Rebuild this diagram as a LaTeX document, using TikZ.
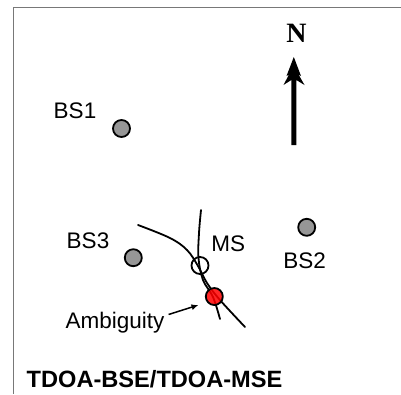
\documentclass[tikz,border=0pt]{standalone}
\usepackage{fontspec}
\setmainfont{Liberation Sans}
\newfontfamily\serifN{Liberation Serif}
\usetikzlibrary{arrows.meta}
\definecolor{bsgray}{RGB}{150,150,150}
\definecolor{framegray}{RGB}{120,120,120}
\definecolor{ambred}{RGB}{255,0,0}
\tikzset{
  lbl/.style={inner sep=0pt, anchor=base, font=\fontsize{22.5}{24}\selectfont},
  station/.style={circle, draw=black, line width=1.8pt, fill=bsgray, minimum size=17pt, inner sep=0pt},
  mobile/.style={circle, draw=black, line width=1.8pt, fill=white, fill opacity=0, minimum size=17pt, inner sep=0pt},
  ambig/.style={circle, draw=black, line width=1.8pt, fill=ambred, minimum size=17pt, inner sep=0pt},
  curve/.style={line width=1.8pt, line cap=round},
}
\begin{document}
\begin{tikzpicture}[x=1pt,y=-1pt]
\useasboundingbox (0,0) rectangle (401,394);
% frame
\draw[framegray, line width=1.2pt] (401,7.3) -- (13.3,7.3) -- (13.3,394);
% hyperbolas
\draw[curve] plot[smooth, tension=0.6] coordinates {(138,225) (170,238) (187,250) (198,266) (207,283) (220,300) (245,327)};
\draw[curve] plot[smooth, tension=0.6] coordinates {(201,210) (199,233) (198.5,258) (203,280) (213,297) (220,319)};
% stations
\node[station] (bs1) at (121.5,128.5) {};
\node[station] (bs2) at (306.7,227.3) {};
\node[station] (bs3) at (133.3,257.7) {};
\node[mobile] (ms) at (200,265.5) {};
\node[ambig, fill opacity=0.85] (amb) at (214.3,296.5) {};
% labels
\node[lbl] (l1) at (75,118) {BS1};
\node[lbl] (l2) at (304.7,268.3) {BS2};
\node[lbl] (l3) at (88,248.3) {BS3};
\node[lbl] (lms) at (228.3,251.7) {MS};
\node[lbl] (lamb) at (115,328.3) {Ambiguity};
\node[inner sep=0pt, anchor=base west, font=\fontsize{23.6}{25}\selectfont\bfseries] (title) at (26.5,387) {TDOA-BSE/TDOA-MSE};
% ambiguity arrow
\coordinate (ambtip) at (198.5,305);
\draw[line width=1.5pt, -{Latex[length=7pt,width=6pt]}] (lamb.east) ++(4,-8) -- (ambtip);
% north arrow
\node[inner sep=0pt, anchor=base, font=\fontsize{28}{30}\selectfont\serifN\bfseries] (north) at (296.5,42.5) {N};
\fill (291.3,145) -- (291.3,80) -- (283.5,85) -- (289,74.5) -- (286.5,76) -- (293.8,57) -- (301,76) -- (298.5,74.5) -- (304.5,85) -- (296.3,80) -- (296.3,145) -- cycle;
\end{tikzpicture}
\end{document}
